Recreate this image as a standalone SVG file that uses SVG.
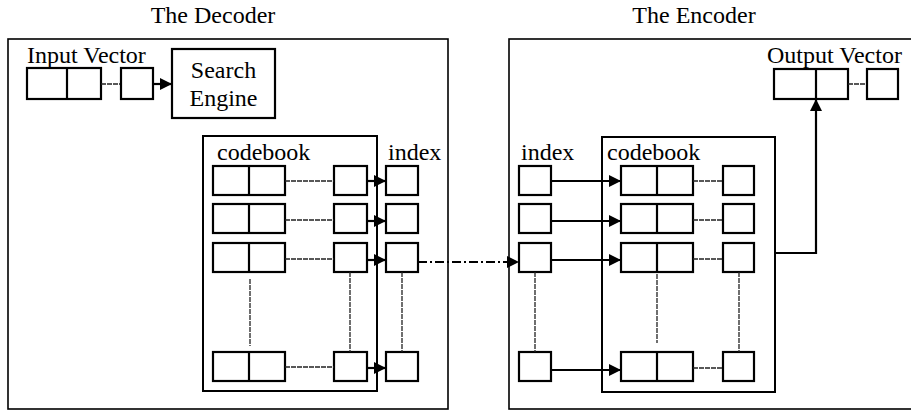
<svg xmlns="http://www.w3.org/2000/svg" width="911" height="411" viewBox="0 0 911 411">
<style>
  .t { font-family: "Liberation Serif", "Times New Roman", serif; font-size: 24px; fill: #000; }
  .frame { fill: none; stroke: #000; stroke-width: 1.6; }
  .cell { fill: #fff; stroke: #000; stroke-width: 2.2; }
  .div { stroke: #000; stroke-width: 2.2; }
  .dot { stroke: #222; stroke-width: 1.3; fill: none; stroke-dasharray: 5 1; }
  .arr { stroke: #000; stroke-width: 2.2; fill: none; }
  .dash { stroke: #000; stroke-width: 2; fill: none; stroke-dasharray: 9 3 2 3; }
</style>
<defs>
  <marker id="ah" markerUnits="userSpaceOnUse" markerWidth="13" markerHeight="14" refX="12" refY="7" orient="auto">
    <path d="M0,1 L12,7 L0,13 Z" fill="#000"/>
  </marker>
  <g id="dbl">
    <rect class="cell" x="0" y="0" width="72" height="29"/>
    <line class="div" x1="36" y1="0" x2="36" y2="29"/>
  </g>
</defs>
<rect width="911" height="411" fill="#fff"/>

<!-- Decoder -->
<g id="decoder">
  <text class="t" x="213" y="23" text-anchor="middle">The Decoder</text>
  <rect class="frame" x="8" y="39" width="440" height="370"/>
</g>
<g id="input-vector">
  <text class="t" x="27" y="63">Input Vector</text>
  <rect class="cell" x="27" y="68" width="74" height="31"/>
  <line class="div" x1="67" y1="68" x2="67" y2="99"/>
  <line class="dot" x1="101" y1="84" x2="121" y2="84"/>
  <rect class="cell" x="121" y="68" width="32" height="31"/>
</g>
<g id="search-engine">
  <rect class="cell" x="172" y="49" width="103" height="69"/>
  <text class="t" x="223.5" y="78" text-anchor="middle">Search</text>
  <text class="t" x="223.5" y="106" text-anchor="middle">Engine</text>
</g>
<g id="dec-codebook">
  <rect class="frame" x="203" y="136" width="174" height="255" style="stroke-width:2"/>
  <text class="t" x="217" y="160">codebook</text>
  <use href="#dbl" x="213" y="166"/>
  <use href="#dbl" x="213" y="204"/>
  <use href="#dbl" x="213" y="243"/>
  <use href="#dbl" x="213" y="352"/>
  <rect class="cell" x="334" y="166" width="33" height="29"/>
  <rect class="cell" x="334" y="204" width="33" height="29"/>
  <rect class="cell" x="334" y="243" width="33" height="29"/>
  <rect class="cell" x="334" y="352" width="33" height="29"/>
</g>
<g id="dec-index">
  <text class="t" x="388" y="160">index</text>
  <rect class="cell" x="386" y="166" width="32" height="29"/>
  <rect class="cell" x="386" y="204" width="32" height="29"/>
  <rect class="cell" x="386" y="243" width="32" height="29"/>
  <rect class="cell" x="386" y="352" width="32" height="29"/>
</g>

<!-- Encoder -->
<g id="encoder">
  <text class="t" x="694" y="23" text-anchor="middle">The Encoder</text>
  <rect class="frame" x="509" y="39" width="410" height="370"/>
</g>
<g id="output-vector">
  <text class="t" x="767" y="63">Output Vector</text>
  <rect class="cell" x="774" y="69" width="74" height="30"/>
  <line class="div" x1="816" y1="69" x2="816" y2="99"/>
  <line class="dot" x1="848" y1="84" x2="867" y2="84"/>
  <rect class="cell" x="867" y="69" width="31" height="30"/>
</g>
<g id="enc-index">
  <text class="t" x="521" y="160">index</text>
  <rect class="cell" x="519" y="166" width="32" height="29"/>
  <rect class="cell" x="519" y="204" width="32" height="29"/>
  <rect class="cell" x="519" y="243" width="32" height="29"/>
  <rect class="cell" x="519" y="352" width="32" height="29"/>
</g>
<g id="enc-codebook">
  <rect class="frame" x="602" y="137" width="173" height="255" style="stroke-width:2"/>
  <text class="t" x="607" y="160">codebook</text>
  <use href="#dbl" x="621" y="166"/>
  <use href="#dbl" x="621" y="204"/>
  <use href="#dbl" x="621" y="243"/>
  <use href="#dbl" x="621" y="352"/>
  <rect class="cell" x="723" y="166" width="31" height="29"/>
  <rect class="cell" x="723" y="204" width="31" height="29"/>
  <rect class="cell" x="723" y="243" width="31" height="29"/>
  <rect class="cell" x="723" y="352" width="31" height="29"/>
</g>

<!-- Connectors -->
<g id="connectors">
  <line class="arr" x1="153" y1="84" x2="172" y2="84" marker-end="url(#ah)"/>
  <!-- decoder row links -->
  <line class="dot" x1="285" y1="181" x2="334" y2="181"/>
  <line class="dot" x1="285" y1="220" x2="334" y2="220"/>
  <line class="dot" x1="285" y1="259" x2="334" y2="259"/>
  <line class="dot" x1="285" y1="367" x2="334" y2="367"/>
  <line class="arr" x1="367" y1="181" x2="386" y2="181" marker-end="url(#ah)"/>
  <line class="arr" x1="367" y1="221" x2="386" y2="221" marker-end="url(#ah)"/>
  <line class="arr" x1="367" y1="260" x2="386" y2="260" marker-end="url(#ah)"/>
  <line class="arr" x1="367" y1="368" x2="386" y2="368" marker-end="url(#ah)"/>
  <line class="dot" x1="250" y1="279" x2="250" y2="346"/>
  <line class="dot" x1="350" y1="272" x2="350" y2="352"/>
  <line class="dot" x1="402" y1="272" x2="402" y2="352"/>
  <!-- decoder to encoder -->
  <line class="dash" x1="418" y1="262" x2="519" y2="262" marker-end="url(#ah)"/>
  <!-- encoder row links -->
  <line class="arr" x1="551" y1="181" x2="621" y2="181" marker-end="url(#ah)"/>
  <line class="arr" x1="551" y1="221" x2="621" y2="221" marker-end="url(#ah)"/>
  <line class="arr" x1="551" y1="260" x2="621" y2="260" marker-end="url(#ah)"/>
  <line class="arr" x1="551" y1="370" x2="621" y2="370" marker-end="url(#ah)"/>
  <line class="dot" x1="693" y1="181" x2="723" y2="181"/>
  <line class="dot" x1="693" y1="220" x2="723" y2="220"/>
  <line class="dot" x1="693" y1="259" x2="723" y2="259"/>
  <line class="dot" x1="693" y1="368" x2="723" y2="368"/>
  <line class="dot" x1="535" y1="272" x2="535" y2="352"/>
  <line class="dot" x1="657" y1="274" x2="657" y2="343"/>
  <line class="dot" x1="739" y1="272" x2="739" y2="352"/>
  <!-- codebook to output vector -->
  <polyline class="arr" points="775,253 816,253 816,99" marker-end="url(#ah)"/>
</g>
</svg>
